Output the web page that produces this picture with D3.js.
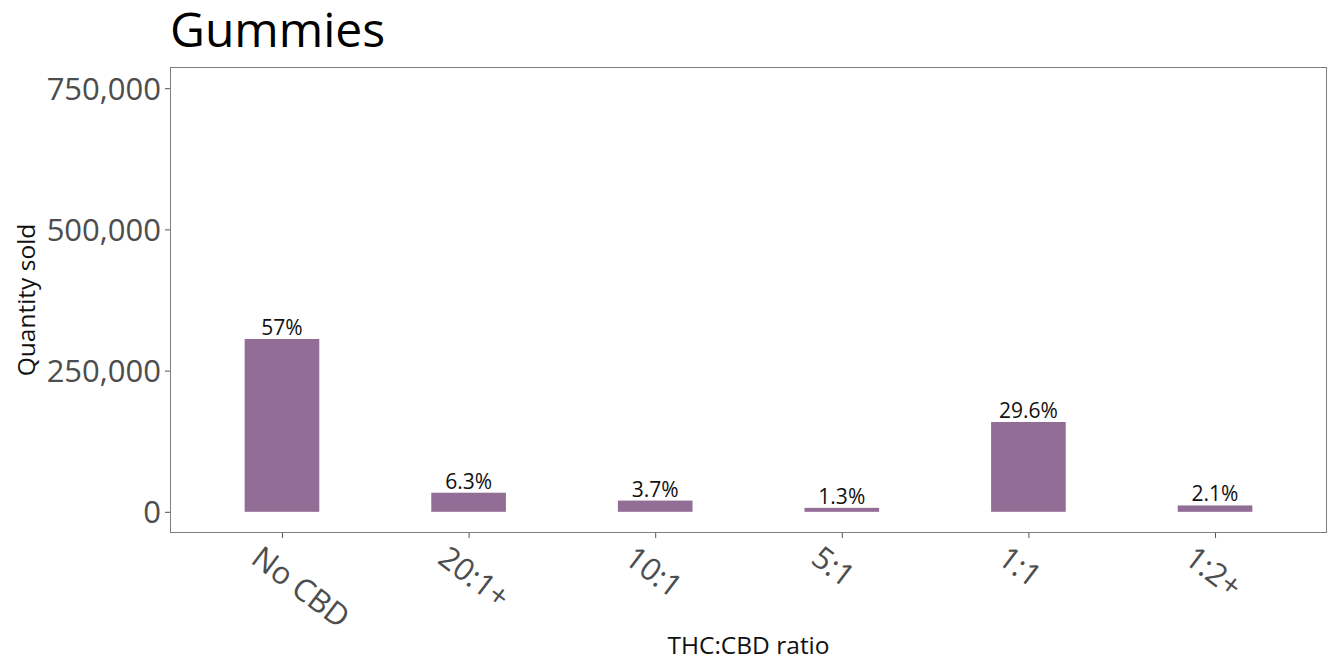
<!DOCTYPE html>
<html>
<head>
<meta charset="utf-8">
<script src="https://cdn.jsdelivr.net/npm/d3@7"></script>
<style>
  body { margin: 0; background: #fff; }
  text { font-family: "Open Sans", sans-serif; }
</style>
</head>
<body>
<main></main>
<script>
// THC:CBD ratio categories and quantities sold
const ratios = ["No CBD", "20:1+", "10:1", "5:1", "1:1", "1:2+"];
const quantities = [306000, 33800, 19900, 7000, 159000, 11300];
const pctLabels = ["57%", "6.3%", "3.7%", "1.3%", "29.6%", "2.1%"];
const yTicks = [0, 250000, 500000, 750000];

function drawChart() {
    const width = 1331;
    const height = 662;
    const margin = { top: 67, right: 4, bottom: 129, left: 170 };
    const innerW = width - margin.left - margin.right;
    const innerH = height - margin.top - margin.bottom;

    const svg = d3.select("main")
        .append("svg")
        .attr("width", width)
        .attr("height", height);

    // discrete x scale, ggplot style expansion (0.6 on each side)
    const x = d3.scaleLinear()
        .domain([0.4, ratios.length + 0.6])
        .range([margin.left, margin.left + innerW]);

    const y = d3.scaleLinear()
        .domain([-37500, 787500])
        .range([margin.top + innerH, margin.top]);

    const barW = x(1.4) - x(1);

    // bars
    svg.append("g")
        .selectAll("rect")
        .data(quantities)
        .join("rect")
        .attr("x", (d, i) => x(i + 1) - barW / 2)
        .attr("y", d => y(d))
        .attr("width", barW)
        .attr("height", d => y(0) - y(d))
        .attr("fill", "#926e96");

    // percentage labels
    svg.append("g")
        .selectAll("text")
        .data(quantities)
        .join("text")
        .attr("x", (d, i) => x(i + 1))
        .attr("y", d => y(d) - 4)
        .attr("text-anchor", "middle")
        .attr("font-size", 21)
        .attr("fill", "#111")
        .text((d, i) => pctLabels[i]);

    // panel border
    svg.append("rect")
        .attr("x", margin.left + 0.5)
        .attr("y", margin.top + 0.5)
        .attr("width", innerW - 1)
        .attr("height", innerH - 1)
        .attr("fill", "none")
        .attr("stroke", "#7f7f7f")
        .attr("stroke-width", 1);

    // y axis
    const yAxis = svg.append("g")
        .attr("transform", "translate(" + margin.left + ",0)")
        .call(d3.axisLeft(y).tickValues(yTicks).tickFormat(d3.format(",")).tickSize(5).tickPadding(4));
    yAxis.select(".domain").remove();
    yAxis.selectAll("line").attr("stroke", "#555");
    yAxis.selectAll("text")
        .attr("font-size", 31)
        .attr("fill", "#4d4d4d")
        .attr("dy", "0.36em");

    // x axis
    const xAxis = svg.append("g")
        .attr("transform", "translate(0," + (margin.top + innerH) + ")")
        .call(d3.axisBottom(x).tickValues(d3.range(1, ratios.length + 1)).tickFormat(d => ratios[d - 1]).tickSize(5));
    xAxis.select(".domain").remove();
    xAxis.selectAll("line").attr("stroke", "#555");
    xAxis.selectAll("text")
        .attr("font-size", 31)
        .attr("fill", "#4d4d4d")
        .attr("text-anchor", "start")
        .attr("dy", null)
        .attr("y", 0)
        .attr("transform", "translate(-17,8) rotate(37)")
        .attr("dominant-baseline", "hanging");

    // axis titles
    svg.append("text")
        .attr("x", margin.left + innerW / 2)
        .attr("y", 654)
        .attr("text-anchor", "middle")
        .attr("font-size", 24.5)
        .attr("fill", "#111")
        .text("THC:CBD ratio");

    svg.append("text")
        .attr("transform", "translate(35," + (margin.top + innerH / 2) + ") rotate(-90)")
        .attr("text-anchor", "middle")
        .attr("font-size", 24.5)
        .attr("fill", "#111")
        .text("Quantity sold");

    // title
    svg.append("text")
        .attr("x", margin.left)
        .attr("y", 47)
        .attr("font-size", 48)
        .attr("fill", "#000")
        .text("Gummies");
}

drawChart();
</script>
</body>
</html>
